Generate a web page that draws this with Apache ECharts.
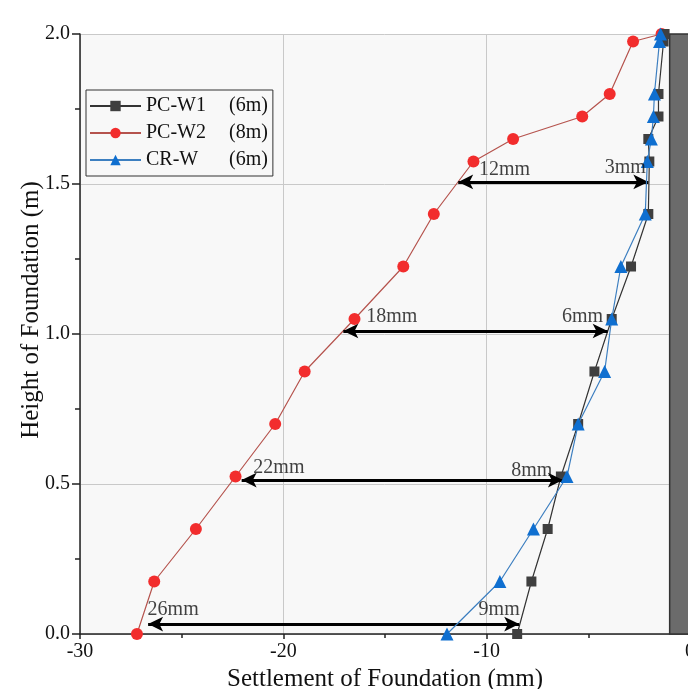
<!DOCTYPE html>
<html><head><meta charset="utf-8">
<script src="https://cdn.jsdelivr.net/npm/echarts@6/dist/echarts.min.js"></script>
<style>html,body{margin:0;padding:0;background:#fff}#c{width:688px;height:689px}</style>
</head><body><div id="c"></div>
<script>
// heights (m)
const heights = [0, 0.175, 0.35, 0.525, 0.7, 0.875, 1.05, 1.225, 1.4, 1.575, 1.65, 1.725, 1.8, 1.975, 2.0];
// settlements (mm)
const pcw1 = [-8.5, -7.8, -7.0, -6.35, -5.5, -4.7, -3.85, -2.9, -2.05, -2.0, -2.05, -1.55, -1.55, -1.3, -1.25];
const pcw2 = [-27.2, -26.35, -24.3, -22.35, -20.4, -18.95, -16.5, -14.1, -12.6, -10.65, -8.7, -5.3, -3.95, -2.8, -1.4];
const crw  = [-11.95, -9.35, -7.7, -6.05, -5.5, -4.2, -3.85, -3.4, -2.2, -2.1, -1.9, -1.8, -1.75, -1.5, -1.45];
const seriesNames = ['PC-W1 (6m)', 'PC-W2 (8m)', 'CR-W (6m)'];

// arrow annotations
const arrowH = [1.507, 1.01, 0.513, 0.033];
const arrowFrom = [-11.4, -17.05, -22.05, -26.65];
const arrowTo = [-2.05, -4.05, -6.25, -8.4];
const leftLabels = ['12mm', '18mm', '22mm', '26mm'];
const leftLabelX = [-10.4, -15.95, -21.5, -26.7];
const leftLabelY = [1.547, 1.057, 0.553, 0.08];
const rightLabels = ['3mm', '6mm', '8mm', '9mm'];
const rightLabelX = [-2.15, -4.25, -6.75, -8.35];
const rightLabelY = [1.553, 1.057, 0.543, 0.08];

// wall
const wallX = [-1, 0];
const wallTop = 2.0;

const serif = '"Liberation Serif", "DejaVu Serif", serif';
const pair = (xs) => xs.map((x, i) => [x, heights[i]]);

const chart = echarts.init(document.getElementById('c'));
chart.setOption({
  backgroundColor: '#ffffff',
  animation: false,
  grid: { left: 80, top: 34, width: 610, height: 600, containLabel: false, outerBoundsMode: 'none',
          show: true, backgroundColor: '#f8f8f8', borderWidth: 0 },
  legend: {
    data: seriesNames,
    orient: 'vertical',
    left: 86, top: 90,
    itemWidth: 51, itemHeight: 13, itemGap: 7,
    padding: [6, 5, 6, 3],
    borderColor: '#333', borderWidth: 1,
    backgroundColor: '#f8f8f8',
    textStyle: {
      fontFamily: serif, fontSize: 20, color: '#111', lineHeight: 20,
      rich: { a: { width: 83, fontFamily: serif, fontSize: 20 }, b: { fontFamily: serif, fontSize: 20 } }
    },
    formatter: (n) => { const p = n.split(' '); return '{a|' + p[0] + '}{b|' + p[1] + '}'; }
  },
  xAxis: {
    type: 'value', min: -30, max: 0, interval: 10,
    name: 'Settlement of Foundation (mm)', nameLocation: 'middle', nameGap: 29,
    nameTextStyle: { fontFamily: serif, fontSize: 25, color: '#111' },
    axisLine: { show: true, onZero: false, lineStyle: { color: '#222', width: 1.5 } },
    axisTick: { show: true, length: 5, lineStyle: { color: '#222', width: 1.5 } },
    minorTick: { show: true, splitNumber: 2, length: 4, lineStyle: { color: '#222', width: 1.5 } },
    axisLabel: { fontFamily: serif, fontSize: 20, color: '#111', margin: 8, showMaxLabel: true, showMinLabel: true },
    splitLine: { show: true, lineStyle: { color: '#c9c9c9', width: 1 } }
  },
  yAxis: {
    type: 'value', min: 0, max: 2, interval: 0.5,
    name: 'Height of Foundation (m)', nameLocation: 'middle', nameGap: 36, nameRotate: 90,
    nameMoveOverlap: false,
    nameTextStyle: { fontFamily: serif, fontSize: 25, color: '#111', padding: [0, 0, 0, 48] },
    axisLine: { show: true, onZero: false, lineStyle: { color: '#222', width: 1.5 } },
    axisTick: { show: true, length: 8, lineStyle: { color: '#222', width: 1.5 } },
    minorTick: { show: true, splitNumber: 2, length: 5, lineStyle: { color: '#222', width: 1.5 } },
    axisLabel: { fontFamily: serif, fontSize: 20, color: '#111', margin: 10, formatter: (v) => v.toFixed(1) },
    splitLine: { show: true, lineStyle: { color: '#c9c9c9', width: 1 } }
  },
  series: [
    {
      name: 'wall', type: 'line', data: [], silent: true,
      markArea: {
        silent: true,
        itemStyle: { color: '#6b6b6b', borderColor: '#333', borderWidth: 1.5 },
        data: [[{ coord: [wallX[0], 0] }, { coord: [wallX[1], wallTop] }]]
      }
    },
    {
      name: seriesNames[1], type: 'line', data: pair(pcw2),
      symbol: 'circle', symbolSize: 12, showAllSymbol: true,
      lineStyle: { color: '#b5534d', width: 1.2 },
      itemStyle: { color: '#f22d2d', borderWidth: 0 }, z: 3
    },
    {
      name: seriesNames[0], type: 'line', data: pair(pcw1),
      symbol: 'rect', symbolSize: 10, showAllSymbol: true,
      lineStyle: { color: '#333', width: 1.2 },
      itemStyle: { color: '#3f3f3f', borderWidth: 0 }, z: 4
    },
    {
      name: seriesNames[2], type: 'line', data: pair(crw),
      symbol: 'triangle', symbolSize: 13, showAllSymbol: true,
      lineStyle: { color: '#3d7fc0', width: 1.2 },
      itemStyle: { color: '#0f6fd0', borderWidth: 0 }, z: 5
    },
    {
      name: 'arrows', type: 'line', data: [], silent: true, z: 6,
      markLine: {
        silent: true, animation: false,
        symbol: ['arrow', 'arrow'], symbolSize: [11, 15],
        lineStyle: { color: '#000', width: 3, type: 'solid' },
        label: { show: false },
        data: arrowH.map((h, i) => [{ coord: [arrowFrom[i], h] }, { coord: [arrowTo[i], h] }])
      }
    },
    {
      name: 'leftLabels', type: 'scatter', silent: true, z: 7,
      symbolSize: 1, itemStyle: { color: 'rgba(0,0,0,0)' },
      data: leftLabels.map((t, i) => ({ value: [leftLabelX[i], leftLabelY[i]], name: t })),
      label: { show: true, position: 'right', distance: 0, formatter: (p) => p.name,
        fontFamily: serif, fontSize: 20, color: '#111' }
    },
    {
      name: 'rightLabels', type: 'scatter', silent: true, z: 7,
      symbolSize: 1, itemStyle: { color: 'rgba(0,0,0,0)' },
      data: rightLabels.map((t, i) => ({ value: [rightLabelX[i], rightLabelY[i]], name: t })),
      label: { show: true, position: 'left', distance: 0, formatter: (p) => p.name,
        fontFamily: serif, fontSize: 20, color: '#111' }
    }
  ]
});
</script></body></html>
